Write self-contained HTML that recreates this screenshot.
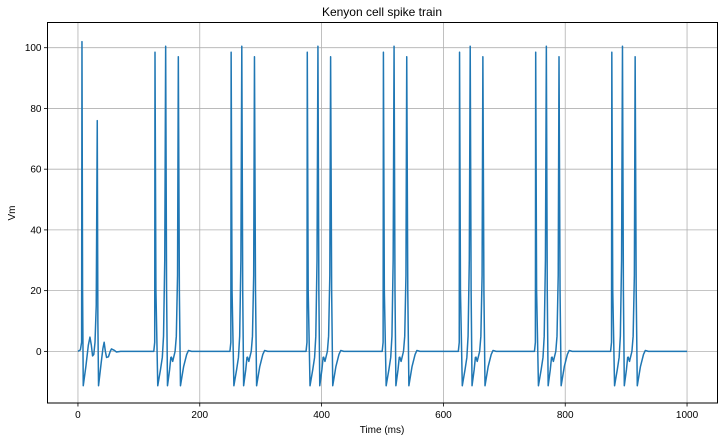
<!DOCTYPE html>
<html><head><meta charset="utf-8"><style>
body{margin:0;background:#fff;}
svg text{font-family:"Liberation Sans","DejaVu Sans",sans-serif;fill:#000;}
</style></head><body>
<svg id="chart" width="723" height="441" viewBox="0 0 723 441" xmlns="http://www.w3.org/2000/svg">
<rect x="0" y="0" width="723" height="441" fill="#fff"/>
<g id="grid"></g>
<g id="plot"></g>
<rect x="47.5" y="22.5" width="670" height="380.5" fill="none" stroke="#000" stroke-width="1"/>
<g id="ticks"></g>
<text x="382" y="16" text-anchor="middle" font-size="12">Kenyon cell spike train</text>
<text x="382" y="433" text-anchor="middle" font-size="10">Time (ms)</text>
<text x="15" y="213" text-anchor="middle" font-size="10" transform="rotate(-90 15 213)">Vm</text>
</svg>
<script>
const xTicks=[0,200,400,600,800,1000];
const yTicks=[0,20,40,60,80,100];
// initial transient (time ms, Vm)
const initT=[0,4,6,6.6,7.6,8.7,13,17,19.7,22,24,26,28,30,31.7,32.7,33.8,38,41,43,45,47,50,53,55,60,63,70];
const initV=[0,0.5,3,102,20,-11.3,-5,2,4.7,2,-1.5,-1,3,15,76,10,-11.3,-4,1,3,0,-2,-1.8,0,0.8,0.3,-0.2,0];
// burst onset times
const burstStarts=[126.5,251.5,376.5,501.5,626.5,751.5,876.5];
// burst waveform (offset ms, Vm)
const burstDt=[-2,-0.5,0,1.5,4.5,9,12,14,16,17.5,19,20.5,24,26,27,29,33,35,37,38.3,40,41.8,47,52,55,60];
const burstV=[0,3,98.5,20,-11.3,-6,-2,5,30,100.5,20,-11.3,-6,-2,-1.9,-3.3,0,5,25,97,20,-11.3,-5,-1,0.3,0];
const tEnd=1000;

const X0=47.5,X1=717.5,Y0=403,Y1=22.5;
const xMin=-50,xMax=1050,yMin=-17.0,yMax=108.3;
function sx(t){return X0+(t-xMin)/(xMax-xMin)*(X1-X0);}
function sy(v){return Y0-(v-yMin)/(yMax-yMin)*(Y0-Y1);}
const NS="http://www.w3.org/2000/svg";
const grid=document.getElementById('grid'),ticks=document.getElementById('ticks'),plot=document.getElementById('plot');
function mk(tag,attrs,parent){const e=document.createElementNS(NS,tag);for(const k in attrs)e.setAttribute(k,attrs[k]);parent.appendChild(e);return e;}
xTicks.forEach(t=>{
  const x=sx(t);
  const g=mk('line',{x1:x,x2:x,y1:Y1,y2:Y0,stroke:'#b0b0b0','stroke-width':0.8},grid);
  
  
  const tk=mk('line',{x1:x,x2:x,y1:Y0,y2:Y0+3.5,stroke:'#000','stroke-width':0.8},ticks);
  
  
  const lb=mk('text',{x:x,y:Y0+15,'text-anchor':'middle','font-size':10},ticks);
  lb.textContent=t;
  
  
});
yTicks.forEach(v=>{
  const y=sy(v);
  const g=mk('line',{x1:X0,x2:X1,y1:y,y2:y,stroke:'#b0b0b0','stroke-width':0.8},grid);
  
  
  const tk=mk('line',{x1:X0-3.5,x2:X0,y1:y,y2:y,stroke:'#000','stroke-width':0.8},ticks);
  
  
  const lb=mk('text',{x:X0-6,y:y+3.5,'text-anchor':'end','font-size':10},ticks);
  lb.textContent=v;
  
  
});
let pts=[];
initT.forEach((t,i)=>pts.push([t,initV[i]]));
burstStarts.forEach(b=>{burstDt.forEach((d,i)=>pts.push([b+d,burstV[i]]));});
pts.push([tEnd,0]);
const d=pts.map((p,i)=>(i?'L':'M')+sx(p[0]).toFixed(2)+','+sy(p[1]).toFixed(2)).join('');
const line=mk('path',{d:d,fill:'none',stroke:'#1f77b4','stroke-width':1.5,'stroke-linejoin':'round'},plot);


</script>
</body></html>
